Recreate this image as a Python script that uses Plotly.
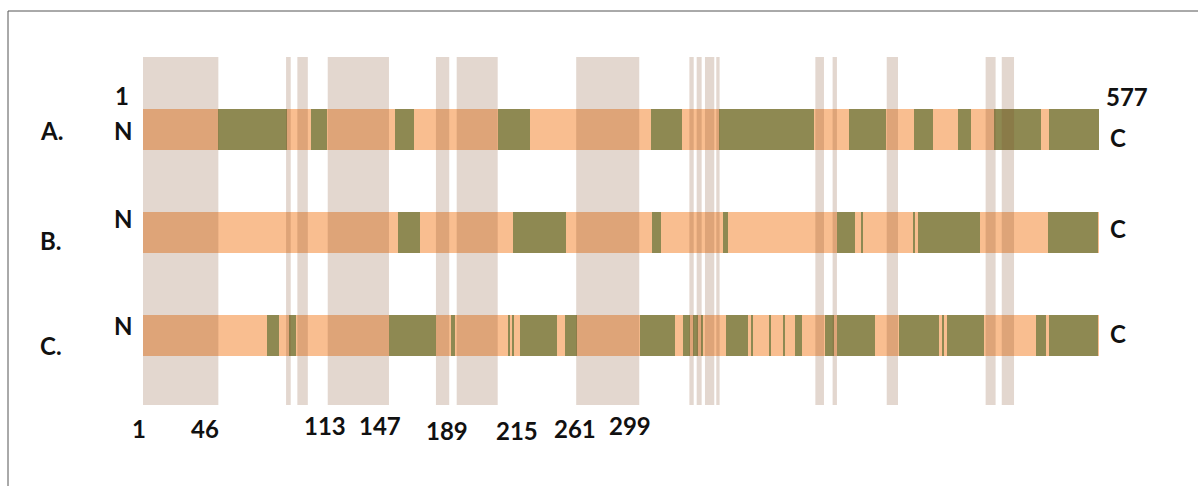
import plotly.graph_objects as go

# ---------------- data ----------------
SEQ_START = 1
SEQ_END = 577
rows = ["A.", "B.", "C."]

# olive segments (start, end residue) on each bar
green_A = [(46, 88), (102, 112), (153, 164.5), (215, 234), (307, 325.6), (348, 405),
           (426.4, 448.5), (465.5, 477.2), (492.2, 500), (513.7, 542), (547, 577)]
green_B = [(154.5, 168), (223.7, 256), (307.5, 313), (350.6, 353.6), (419.3, 430),
           (433.6, 435), (465, 466.3), (468, 505.3), (546.5, 576.5)]
green_C = [(76, 83), (89, 93), (149, 177.4), (186.4, 189), (221, 222), (223.5, 224.5),
           (228, 250.6), (255, 262.3), (300.4, 321.5), (326.5, 330.6), (332.2, 335.6),
           (337.6, 338.6), (352.3, 365.7), (367.2, 368.8), (378, 379.4), (386.8, 387.8),
           (393.8, 398.2), (412, 417.3), (419, 442), (456.7, 480.4), (482.8, 483.8),
           (485.6, 507.7), (539, 545), (547, 576.6)]

# shaded vertical regions (start, end residue)
regions = [(1, 46.4), (87.2, 90), (94, 100.3), (112.3, 149.2), (177.5, 185.5),
           (190, 214.7), (262, 300), (330.2, 332.8), (334.6, 337.6), (339.6, 345.2),
           (346.4, 348.4), (406.1, 411.3), (416.5, 419.1), (449.1, 455.9),
           (508.7, 514.7), (518.4, 525.8)]

# position labels under the chart
pos_labels = [1, 46, 113, 147, 189, 215, 261, 299]

# ---------------- style ----------------
W, H = 1198, 486
ORANGE = "#F9BE90"
GREEN = "#8E8952"
BAND = "rgba(128,73,37,0.22)"
FONT = dict(family="Lato, 'Open Sans', sans-serif", size=24, color="#111111")

# small hand-placement nudges of the bottom labels (pixels), as in the original
label_dx = [-4, -13, -4, -5, -8, 19, 0, -8]
label_py = [428, 428, 425, 425, 430, 430, 428, 425]

PX0 = 143.0                  # pixel of residue 1
PX_PER_RES = (1099.0 - 143.0) / (SEQ_END - SEQ_START)
ROW0_PX = 129.5              # pixel centre of first row
ROW_PX = 103.0               # pixels between rows

x_range = [SEQ_START - PX0 / PX_PER_RES, SEQ_START + (W - PX0) / PX_PER_RES]
y_range = [(H - ROW0_PX) / ROW_PX, -ROW0_PX / ROW_PX]

fig = go.Figure()

# full orange bars
fig.add_trace(go.Bar(
    orientation="h", y=list(range(len(rows))),
    base=[SEQ_START] * len(rows), x=[SEQ_END - SEQ_START] * len(rows),
    width=0.39, marker=dict(color=ORANGE, line=dict(width=0)),
    hoverinfo="skip", showlegend=False))

# olive segments
gy, gb, gx = [], [], []
for i, segs in enumerate([green_A, green_B, green_C]):
    for s, e in segs:
        gy.append(i)
        gb.append(s)
        gx.append(e - s)
fig.add_trace(go.Bar(
    orientation="h", y=gy, base=gb, x=gx, width=0.39,
    marker=dict(color=GREEN, line=dict(width=0)),
    hoverinfo="skip", showlegend=False))

# shaded vertical regions over the bars
band_y0 = (57 - ROW0_PX) / ROW_PX
band_y1 = (405 - ROW0_PX) / ROW_PX
for s, e in regions:
    fig.add_shape(type="rect", xref="x", yref="y", x0=s, x1=e, y0=band_y0, y1=band_y1,
                  fillcolor=BAND, line=dict(width=0), layer="above")

# frame
fig.add_shape(type="rect", xref="paper", yref="paper", x0=8 / W, x1=1.02,
              y0=-0.02, y1=1 - 11 / H, line=dict(color="#555555", width=1),
              fillcolor="rgba(0,0,0,0)", layer="below")


def px(x, y):
    return x / W, 1 - y / H


annots = []
def add_text(t, x, y):
    ax, ay = px(x, y)
    annots.append(dict(text="<b>%s</b>" % t, xref="paper", yref="paper", x=ax, y=ay,
                       showarrow=False, xanchor="center", yanchor="middle", font=FONT))

# row letters
for t, yy in zip(rows, [130, 240, 345]):
    add_text(t, 51, yy)
# N / C terminals
for yy in [130, 218, 325]:
    add_text("N", 123, yy)
for yy in [137, 228, 333]:
    add_text("C", 1118, yy)
add_text(str(SEQ_START), 122, 95)
add_text(str(SEQ_END), 1127, 96)

# position labels (at residue positions)
for v, dx, py in zip(pos_labels, label_dx, label_py):
    annots.append(dict(text="<b>%d</b>" % v, xref="x", yref="paper", x=v, y=1 - py / H,
                       xshift=dx, showarrow=False, xanchor="center", yanchor="middle",
                       font=FONT))

fig.update_layout(
    width=W, height=H, margin=dict(l=0, r=0, t=0, b=0),
    paper_bgcolor="white", plot_bgcolor="white",
    barmode="overlay", bargap=0, showlegend=False,
    xaxis=dict(range=x_range, visible=False, fixedrange=True),
    yaxis=dict(range=y_range, visible=False, fixedrange=True),
    annotations=annots)

fig.write_html("out.html", config={"displayModeBar": False},
               post_script="document.body.style.margin='0';document.body.style.overflow='hidden';")
